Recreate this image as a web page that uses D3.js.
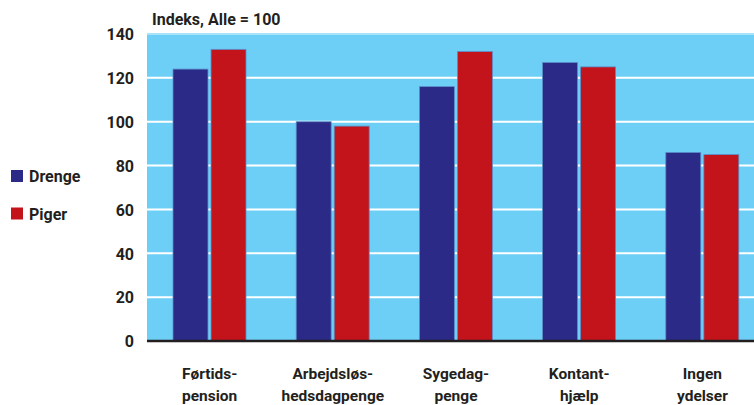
<!DOCTYPE html>
<html>
<head>
<meta charset="utf-8">
<script src="https://cdn.jsdelivr.net/npm/d3@7"></script>
<style>
    body { margin: 0; background: #fff; }
    text { font-family: Roboto, "Open Sans", sans-serif; font-weight: bold; fill: #231f20; }
</style>
</head>
<body>
<div id="chart"></div>
<script>
// categories, shown on two lines each
var categories = ["Førtidspension", "Arbejdsløshedsdagpenge", "Sygedagpenge", "Kontanthjælp", "Ingen ydelser"];
var categoryLines = [["Førtids-", "pension"], ["Arbejdsløs-", "hedsdagpenge"], ["Sygedag-", "penge"],
    ["Kontant-", "hjælp"], ["Ingen", "ydelser"]];
var seriesNames = ["Drenge", "Piger"];
var drenge = [124, 100, 116, 127, 86];
var piger = [133, 98, 132, 125, 85];
var yTicks = [0, 20, 40, 60, 80, 100, 120, 140];
var yTitle = "Indeks, Alle = 100";

var colors = {Drenge: "#2b2a86", Piger: "#c3141c"};

var svgWidth = 754, svgHeight = 405;
var plot = {left: 147, right: 754, top: 34, bottom: 341};

var svg = d3.select("#chart").append("svg")
    .attr("width", svgWidth)
    .attr("height", svgHeight);

var y = d3.scaleLinear().domain([0, 140]).range([plot.bottom, plot.top]);
var x0 = d3.scaleBand().domain(categories).range([148, 764]);
var x1 = d3.scaleBand().domain(seriesNames).range([25, 98]).paddingInner(0.08);

// background
svg.append("rect")
    .attr("x", plot.left)
    .attr("y", plot.top - 1)
    .attr("width", plot.right - plot.left)
    .attr("height", plot.bottom - plot.top + 1)
    .attr("fill", "#6dcff6");

// gridlines
svg.append("g").selectAll("line")
    .data(yTicks.filter(function (d) { return d > 0; }))
    .enter().append("line")
    .attr("x1", plot.left)
    .attr("x2", plot.right)
    .attr("y1", function (d) { return y(d); })
    .attr("y2", function (d) { return y(d); })
    .attr("stroke", function (d) { return d === 140 ? "#a9e3fa" : "#fff"; })
    .attr("stroke-width", 2);

// y axis labels
var yAxis = d3.axisLeft(y).tickValues(yTicks).tickSize(0).tickPadding(0);
svg.append("g")
    .attr("transform", "translate(134,0)")
    .call(yAxis)
    .call(function (g) { g.select(".domain").remove(); })
    .selectAll("text")
    .attr("dy", "0.36em")
    .style("font-size", "16px")
    .style("font-family", "Roboto, sans-serif")
    .style("font-weight", "bold")
    .attr("fill", "#231f20");

svg.append("text")
    .attr("x", 152)
    .attr("y", 25)
    .style("font-size", "16px")
    .text(yTitle);

// bars
var rows = categories.map(function (c, i) {
    return {cat: c, values: [{key: "Drenge", value: drenge[i]}, {key: "Piger", value: piger[i]}]};
});

svg.append("g").selectAll("g")
    .data(rows)
    .enter().append("g")
    .attr("transform", function (d) { return "translate(" + x0(d.cat) + ",0)"; })
    .selectAll("rect")
    .data(function (d) { return d.values; })
    .enter().append("rect")
    .attr("x", function (d) { return x1(d.key); })
    .attr("y", function (d) { return y(d.value); })
    .attr("width", x1.bandwidth())
    .attr("height", function (d) { return y(0) - y(d.value); })
    .attr("fill", function (d) { return colors[d.key]; })
    .attr("stroke", "#5b8ec9")
    .attr("stroke-width", 0.8);

// baseline
svg.append("line")
    .attr("x1", plot.left)
    .attr("x2", plot.right)
    .attr("y1", plot.bottom)
    .attr("y2", plot.bottom)
    .attr("stroke", "#231f20")
    .attr("stroke-width", 2.5);

// category labels
var labels = svg.append("g").selectAll("text")
    .data(categories)
    .enter().append("text")
    .attr("text-anchor", "middle")
    .style("font-size", "15.5px")
    .attr("transform", function (d) { return "translate(" + (x0(d) + x0.bandwidth() / 2) + ",0)"; });

labels.each(function (d, i) {
    var t = d3.select(this);
    categoryLines[i].forEach(function (line, j) {
        t.append("tspan")
            .attr("x", 0)
            .attr("y", 379 + j * 22)
            .text(line);
    });
});

// legend
var legend = svg.append("g").selectAll("g")
    .data(seriesNames)
    .enter().append("g")
    .attr("transform", function (d, i) { return "translate(11," + (170 + i * 37.5) + ")"; });

legend.append("rect")
    .attr("width", 12)
    .attr("height", 12)
    .attr("fill", function (d) { return colors[d]; });

legend.append("text")
    .attr("x", 18)
    .attr("y", 12)
    .style("font-size", "16px")
    .text(function (d) { return d; });
</script>
</body>
</html>
